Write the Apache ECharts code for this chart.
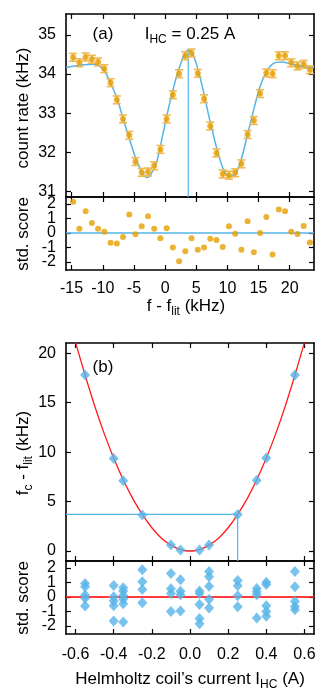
<!DOCTYPE html>
<html>
<head>
<meta charset="utf-8">
<script src="https://cdn.jsdelivr.net/npm/echarts@6/dist/echarts.min.js"></script>
<style>
  html, body { margin: 0; padding: 0; background: #fff; }
  #chart { width: 332px; height: 699px; }
</style>
</head>
<body>
<div id="chart"></div>
<script>
// ---- panel (a): frequency scan at I_HC = 0.25 A ----
const scanFreq = [-14.75, -13.75, -12.75, -11.75, -10.75, -9.75, -8.75, -7.75, -6.75, -5.75,
  -4.75, -3.75, -2.75, -1.75, -0.75, 0.25, 1.25, 2.25, 3.25, 4.25,
  5.25, 6.25, 7.25, 8.25, 9.25, 10.25, 11.25, 12.25, 13.25, 14.25,
  15.25, 16.25, 17.25, 18.25, 19.25, 20.25, 21.25, 22.25, 23.25]
const scanRate = [34.43, 34.29, 34.44, 34.38, 34.31, 34.14, 33.78, 33.34, 32.85, 32.43,
  31.76, 31.48, 31.49, 31.65, 32.07, 32.85, 33.47, 34.01, 34.47, 34.54,
  34.02, 33.37, 32.67, 31.98, 31.44, 31.41, 31.47, 31.70, 32.45, 32.81,
  33.50, 34.03, 34.01, 34.47, 34.47, 34.29, 34.21, 34.25, 34.11]
const scanErr = 0.1
const scanScore = [2.15, 0.30, 1.50, 0.69, 0.30, 0.09, -0.67, -0.72, -0.28, 1.27,
  -0.09, 0.46, 1.16, 0.30, -0.37, 0.32, -1.00, -1.94, -1.25, -0.37,
  -1.16, -1.00, -0.39, -0.49, -0.97, 0.46, -0.05, -1.16, 0.81, -1.32,
  0.00, 1.11, -1.48, 1.62, 1.50, 0.09, -0.07, 0.49, -0.65]
const fitFreq = [-15.9, -13.1, -11.5, -10.45, -9.65, -8.85, -7.78, -6.71, -5.64, -4.57,
  -3.5, -2.97, -2.43, -1.36, -0.29, 0.78, 1.84, 2.91, 3.72, 4.52,
  5.32, 6.12, 7.19, 8.26, 9.33, 10.29, 11.2, 12.01, 13.07, 14.14,
  15.21, 16.28, 17.35, 18.69, 20.03, 21.63, 23.9]
const fitRate = [34.17, 34.24, 34.25, 34.20, 34.06, 33.80, 33.41, 32.85, 32.30, 31.78,
  31.44, 31.35, 31.39, 31.74, 32.51, 33.28, 33.93, 34.44, 34.62, 34.48,
  34.10, 33.58, 32.81, 32.12, 31.57, 31.37, 31.44, 31.70, 32.34, 33.03,
  33.67, 34.06, 34.27, 34.31, 34.27, 34.20, 34.16]
const peakFreq = 3.72
const peakRate = 34.62

// ---- panel (b): centre frequency vs coil current ----
const currents = [-0.55, -0.4, -0.35, -0.25, -0.1, -0.05, 0.05, 0.1, 0.25, 0.35, 0.4, 0.55]
const shifts = [17.8, 9.35, 7.1, 3.65, 0.6, 0.1, 0.1, 0.6, 3.7, 7.15, 9.4, 17.8]
const currentScores = [
  [0.93, 0.70, 0.14, -0.09, -0.62],
  [0.80, 0.02, -0.28, -0.60, -1.66],
  [0.64, 0.41, 0.10, -0.16, -0.46, -1.73],
  [1.87, 1.05, 0.52, -0.40],
  [1.62, 0.56, 0.24, -1.00],
  [1.18, 0.40, 0.16, -0.97],
  [0.42, 0.24, -0.51, -1.48, -1.85],
  [1.76, 1.40, 0.74, -0.16, -0.75],
  [1.13, 0.78, 0.09, -0.67],
  [0.59, 0.36, 0.16, -1.45],
  [1.01, 0.86, -0.60, -1.00, -1.32],
  [1.75, 0.70, -0.30, -0.66, -0.88]
]
const parabI = [-0.6, -0.55, -0.5, -0.45, -0.4, -0.35, -0.3, -0.25, -0.2, -0.15, -0.1, -0.05, 0,
  0.05, 0.1, 0.15, 0.2, 0.25, 0.3, 0.35, 0.4, 0.45, 0.5, 0.55, 0.6]
const parabF = [21.1, 17.8, 14.7, 11.9, 9.4, 7.2, 5.3, 3.7, 2.35, 1.3, 0.6, 0.15, 0,
  0.15, 0.6, 1.3, 2.35, 3.7, 5.3, 7.2, 9.4, 11.9, 14.7, 17.8, 21.1]
const markCurrent = 0.25
const markShift = 3.7

// tick values
const ticksFreq = [-15, -10, -5, 0, 5, 10, 15, 20]
const ticksRate = [31, 32, 33, 34, 35]
const ticksScore = [-2, -1, 0, 1, 2]
const labelsScoreEven = [-2, 0, 2]
const labelsScoreOdd = [-1, 1]
const ticksCurrent = [-0.6, -0.4, -0.2, 0, 0.2, 0.4, 0.6]
const ticksShift = [0, 5, 10, 15, 20]

const FONT = '"Liberation Sans", Arial, sans-serif'
const ORANGE = '#e69f00'
const BLUE = '#56b4e9'
const RED = '#ff1a1a'

const X_A = [-15.9, 23.9], Y_A = [30.85, 35.54], Y_R = [-2.55, 2.48]
const X_B = [-0.65, 0.65], Y_B = [-1.01, 21.04]

function axis(grid, range, ticks, pos, labels, fmt, margin) {
  return {
    type: 'value', gridIndex: grid, min: range[0], max: range[1], position: pos,
    axisLine: { show: true, onZero: false, lineStyle: { color: '#000', width: 1.6 } },
    axisTick: { show: true, inside: true, length: 5, customValues: ticks, lineStyle: { color: '#000', width: 1.2 } },
    axisLabel: { show: !!labels, customValues: labels || ticks, formatter: fmt, margin: margin || 10,
      showMinLabel: true, showMaxLabel: true, hideOverlap: false,
      color: '#000', fontSize: 16, fontFamily: FONT },
    splitLine: { show: false }
  }
}

// label-only axis (the residual panels are too short for all five labels on one axis)
function labelAxis(grid, range, labels) {
  const a = axis(grid, range, labels, 'left', labels)
  a.axisLine.show = false
  a.axisTick.show = false
  return a
}

function title(x, y, text, rotate) {
  return {
    type: 'text', x: x, y: y, rotation: rotate ? Math.PI / 2 : 0,
    style: {
      text: text, x: 0, y: 0, align: 'center', verticalAlign: 'middle',
      fontSize: 17, fontFamily: FONT, fill: '#000',
      rich: {
        m: { fontSize: 17, fontFamily: FONT, lineHeight: 24, fill: '#000' },
        s: { fontSize: 12, fontFamily: FONT, lineHeight: 12, verticalAlign: 'bottom', fill: '#000' }
      }
    }
  }
}

const scorePoints = []
currents.forEach((c, i) => currentScores[i].forEach(s => scorePoints.push([c, s])))

const chart = echarts.init(document.getElementById('chart'))
const option = {
  animation: false,
  grid: [
    { left: 66, top: 14, width: 248, height: 183, outerBoundsMode: 'none' },
    { left: 66, top: 197, width: 248, height: 73, outerBoundsMode: 'none' },
    { left: 66, top: 343, width: 248, height: 218, outerBoundsMode: 'none' },
    { left: 66, top: 561, width: 248, height: 73, outerBoundsMode: 'none' }
  ],
  xAxis: [
    axis(0, X_A, ticksFreq, 'bottom'),
    axis(0, X_A, ticksFreq, 'top'),
    axis(1, X_A, ticksFreq, 'bottom', ticksFreq, null, 11),
    axis(1, X_A, ticksFreq, 'top'),
    axis(2, X_B, ticksCurrent, 'bottom'),
    axis(2, X_B, ticksCurrent, 'top'),
    axis(3, X_B, ticksCurrent, 'bottom', ticksCurrent, v => v.toFixed(1), 13),
    axis(3, X_B, ticksCurrent, 'top')
  ],
  yAxis: [
    axis(0, Y_A, ticksRate, 'left', ticksRate),
    axis(0, Y_A, ticksRate, 'right'),
    axis(1, Y_R, ticksScore, 'left', labelsScoreEven),
    axis(1, Y_R, ticksScore, 'right'),
    axis(2, Y_B, ticksShift, 'left', ticksShift),
    axis(2, Y_B, ticksShift, 'right'),
    axis(3, Y_R, ticksScore, 'left', labelsScoreEven),
    axis(3, Y_R, ticksScore, 'right'),
    labelAxis(1, Y_R, labelsScoreOdd),
    labelAxis(3, Y_R, labelsScoreOdd)
  ],
  graphic: [
    title(103, 34, '(a)'),
    title(190, 34, '{m|I}{s|HC}{m| = 0.25 A}'),
    title(103, 367, '(b)'),
    title(23, 108, 'count rate (kHz)', true),
    title(23, 234, 'std. score', true),
    title(186, 306, '{m|f - f}{s|lit}{m| (kHz)}'),
    title(23, 453, '{m|f}{s|c}{m| - f}{s|lit}{m| (kHz)}', true),
    title(23, 598, 'std. score', true),
    title(190, 679, '{m|Helmholtz coil\u2019s current I}{s|HC}{m| (A)}')
  ],
  series: [
    {
      type: 'line', xAxisIndex: 0, yAxisIndex: 0, smooth: 0.3, showSymbol: false, z: 2,
      lineStyle: { color: BLUE, width: 1.5 },
      data: fitFreq.map((f, i) => [f, fitRate[i]])
    },
    {
      type: 'line', xAxisIndex: 0, yAxisIndex: 0, showSymbol: false, z: 2,
      lineStyle: { color: BLUE, width: 1.2 },
      data: [[peakFreq, peakRate], [peakFreq, Y_A[0]]]
    },
    {
      type: 'custom', xAxisIndex: 0, yAxisIndex: 0, z: 3,
      data: scanFreq.map((f, i) => [f, scanRate[i], scanErr]),
      renderItem: function (params, api) {
        const x = api.value(0), y = api.value(1), e = api.value(2)
        const hi = api.coord([x, y + e]), lo = api.coord([x, y - e])
        const w = 4
        const st = { stroke: '#f0b850', lineWidth: 1.6 }
        return {
          type: 'group',
          children: [
            { type: 'line', shape: { x1: hi[0], y1: hi[1], x2: lo[0], y2: lo[1] }, style: st },
            { type: 'line', shape: { x1: hi[0] - w, y1: hi[1], x2: hi[0] + w, y2: hi[1] }, style: st },
            { type: 'line', shape: { x1: lo[0] - w, y1: lo[1], x2: lo[0] + w, y2: lo[1] }, style: st }
          ]
        }
      }
    },
    {
      type: 'scatter', xAxisIndex: 0, yAxisIndex: 0, symbolSize: 6, z: 4,
      itemStyle: { color: ORANGE },
      data: scanFreq.map((f, i) => [f, scanRate[i]])
    },
    {
      type: 'line', xAxisIndex: 2, yAxisIndex: 2, showSymbol: false, z: 2,
      lineStyle: { color: BLUE, width: 1.5 },
      data: [[X_A[0], 0], [X_A[1], 0]]
    },
    {
      type: 'scatter', xAxisIndex: 2, yAxisIndex: 2, symbolSize: 6, z: 4,
      itemStyle: { color: ORANGE },
      data: scanFreq.map((f, i) => [f, scanScore[i]])
    },
    {
      type: 'line', xAxisIndex: 4, yAxisIndex: 4, smooth: 0.3, showSymbol: false, z: 2,
      lineStyle: { color: RED, width: 1.3 },
      data: parabI.map((c, i) => [c, parabF[i]])
    },
    {
      type: 'line', xAxisIndex: 4, yAxisIndex: 4, showSymbol: false, z: 2,
      lineStyle: { color: BLUE, width: 1.2 },
      data: [[X_B[0], markShift], [markCurrent, markShift], [markCurrent, Y_B[0]]]
    },
    {
      type: 'scatter', xAxisIndex: 4, yAxisIndex: 4, symbol: 'diamond', symbolSize: [10, 11], z: 4,
      itemStyle: { color: BLUE },
      data: currents.map((c, i) => [c, shifts[i]])
    },
    {
      type: 'line', xAxisIndex: 6, yAxisIndex: 6, showSymbol: false, z: 2,
      lineStyle: { color: RED, width: 2, opacity: 0.85 },
      data: [[X_B[0], 0], [X_B[1], 0]]
    },
    {
      type: 'scatter', xAxisIndex: 6, yAxisIndex: 6, symbol: 'diamond', symbolSize: [10, 11], z: 4,
      itemStyle: { color: BLUE },
      data: scorePoints
    }
  ]
}
chart.setOption(option)
window.addEventListener('resize', function () {
  chart.resize()
})
</script>
</body>
</html>
